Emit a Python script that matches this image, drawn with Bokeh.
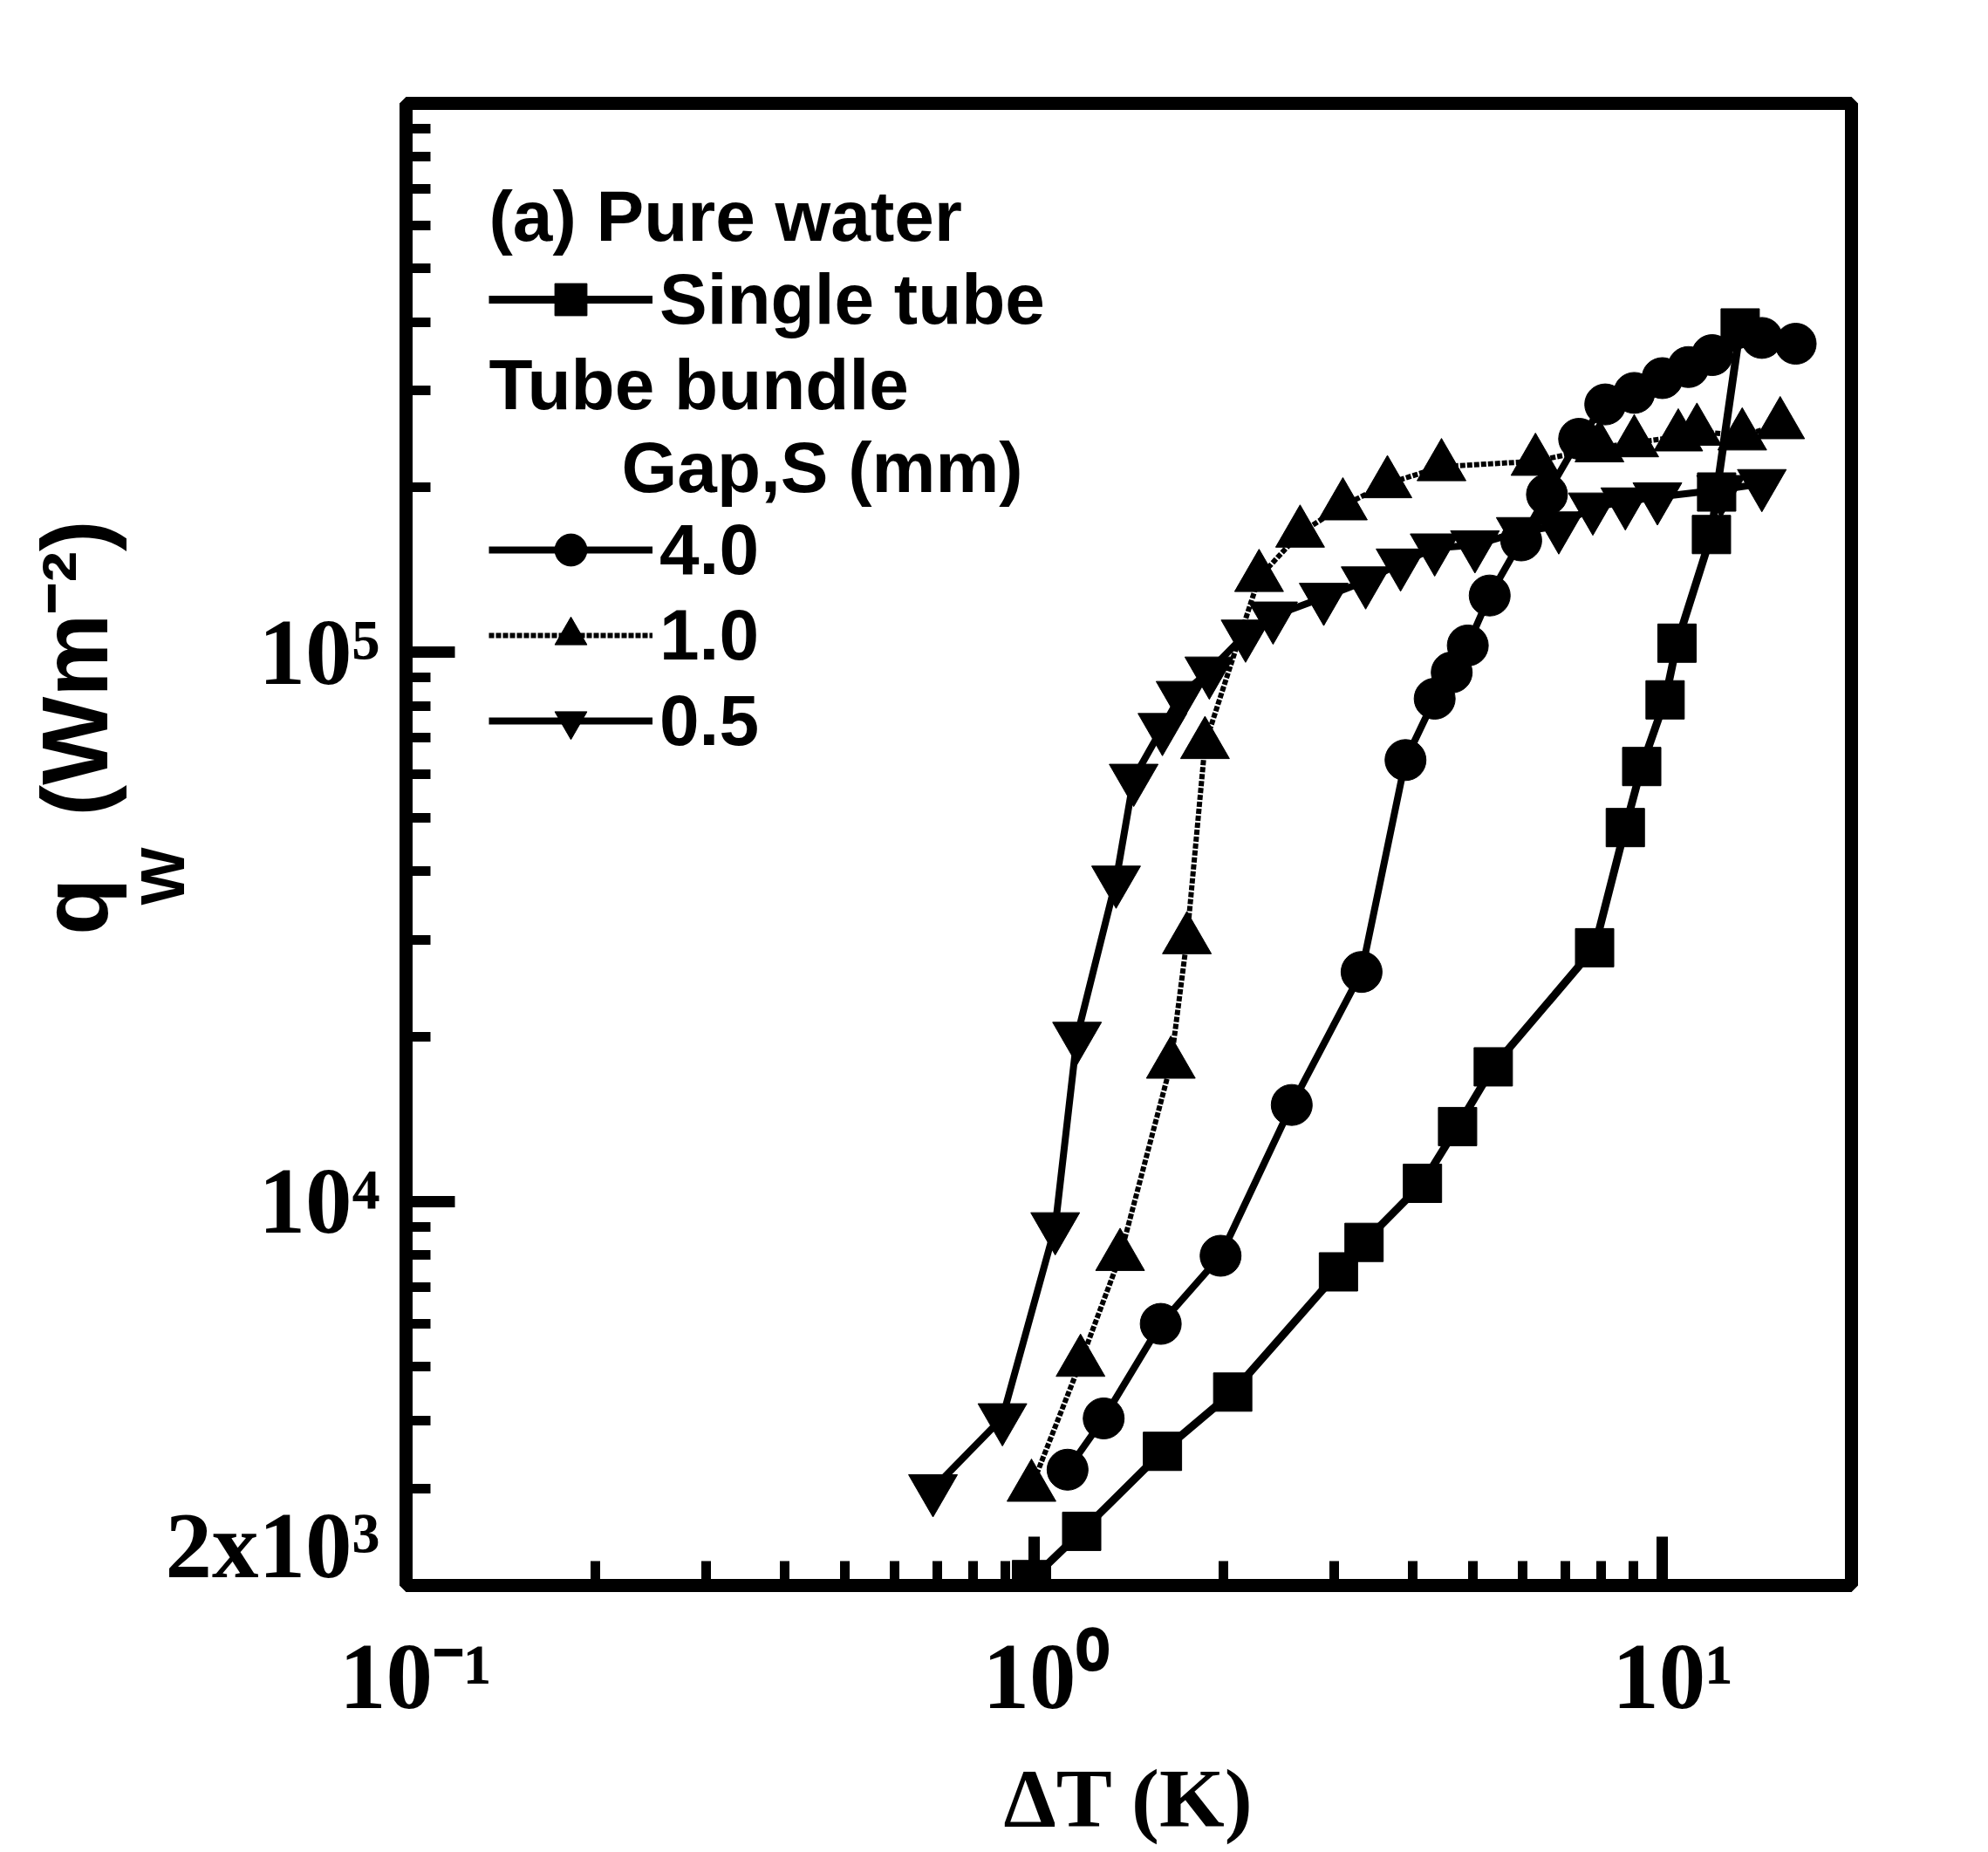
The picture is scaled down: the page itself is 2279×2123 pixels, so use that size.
import math
from bokeh.plotting import figure
from bokeh.models import Range1d, FixedTicker, Label, Legend, LegendItem, LinearAxis
from bokeh.embed import file_html
from bokeh.resources import INLINE

# ---------------- data: wall heat flux vs wall superheat, pure water ----------------
single_dt = [0.99, 1.19, 1.60, 2.07, 3.05, 3.35, 4.15, 4.72, 5.38, 7.80, 8.73, 9.27,
             10.1, 10.55, 11.97, 12.2, 13.3]
single_q = [2050, 2510, 3510, 4500, 7450, 8430, 10800, 13700, 17600, 29000, 48000, 62000,
            82000, 104000, 164000, 196000, 390000]

gap40_dt = [1.13, 1.29, 1.59, 1.98, 2.57, 3.32, 3.90, 4.34, 4.62, 4.90, 5.31, 5.96, 6.55,
            7.37, 8.11, 9.02, 10.0, 11.0, 12.0, 14.4, 16.3]
gap40_q = [3250, 4030, 5990, 7970, 15000, 26200, 63700, 82400, 92000, 103000, 127000,
           160000, 194000, 245000, 283000, 297000, 316000, 331000, 348000, 374000, 365000]

gap10_dt = [0.99, 1.185, 1.37, 1.65, 1.75, 1.87, 2.28, 2.65, 3.10, 3.65, 4.45, 6.28, 7.94,
            9.02, 10.6, 11.35, 13.4, 15.4]
gap10_q = [3020, 5100, 7950, 17800, 30000, 68000, 137000, 165000, 185000, 203000, 218000,
           223000, 236000, 241000, 247000, 253000, 248000, 260000]

gap05_dt = [0.69, 0.89, 1.08, 1.17, 1.35, 1.44, 1.60, 1.71, 1.90, 2.17, 2.40, 2.89, 3.37,
            3.83, 4.34, 5.03, 5.95, 6.84, 7.75, 8.73, 9.82, 12.4, 14.4]
gap05_q = [3000, 4040, 9000, 20000, 38500, 59000, 73000, 83500, 92500, 108000, 116500,
           126000, 135000, 145500, 155000, 157000, 166000, 170000, 184000, 188000, 192000,
           198000, 203000]

# ---------------- axes ----------------
x_major = [0.1, 1, 10]
x_minor = [0.2, 0.3, 0.4, 0.5, 0.6, 0.7, 0.8, 0.9, 2, 3, 4, 5, 6, 7, 8, 9]
y_major = [1e4, 1e5, 1e6]
y_minor = [3e3, 4e3, 5e3, 6e3, 7e3, 8e3, 9e3,
           2e4, 3e4, 4e4, 5e4, 6e4, 7e4, 8e4, 9e4,
           2e5, 3e5, 4e5, 5e5, 6e5, 7e5, 8e5, 9e5]

x_label_vals = [0.1, 1, 10, 20]
x_label_text = ["10\u207b\u00b9", "10\u2070", "10\u00b9", "2x10\u00b9"]
y_label_vals = [2000, 1e4, 1e5, 1e6]
y_label_text = ["2x10\u00b3", "10\u2074", "10\u2075", "10\u2076"]

x_title = "\u0394T (K)"
# rotated y title; the gap after "q" leaves room for the subscript
y_title = "\u2003\u2003\u2002q\u2002\u2006(Wm\u207b\u00b2)"
y_title_sub = "W"

series_names = ["Single tube", "4.0", "1.0", "0.5"]
header_lines = ["(a) Pure water", "Tube bundle", "Gap,S (mm)"]

# ---------------- figure ----------------
W, H = 2279, 2123
FL, FR, FT, FB = 465, 2122, 118, 1817

p = figure(width=W, height=H, x_axis_type="log", y_axis_type="log",
           x_range=Range1d(0.1, 20), y_range=Range1d(2000, 1e6),
           output_backend="svg", toolbar_location=None,
           min_border_left=FL, min_border_right=W - FR,
           min_border_top=FT, min_border_bottom=H - FB)
p.grid.visible = False
p.background_fill_color = "white"
p.border_fill_color = "white"
p.outline_line_color = "black"
p.outline_line_width = 15


def at_x(px):
    lo, hi = math.log10(p.x_range.start), math.log10(p.x_range.end)
    return 10 ** (lo + (px - FL) / (FR - FL) * (hi - lo))


def at_y(py):
    lo, hi = math.log10(p.y_range.start), math.log10(p.y_range.end)
    return 10 ** (lo + (FB - py) / (FB - FT) * (hi - lo))


def px_x(v):
    lo, hi = math.log10(p.x_range.start), math.log10(p.x_range.end)
    return FL + (math.log10(v) - lo) / (hi - lo) * (FR - FL)


def px_y(v):
    lo, hi = math.log10(p.y_range.start), math.log10(p.y_range.end)
    return FB - (math.log10(v) - lo) / (hi - lo) * (FB - FT)


# tick marks (inward) on the frame's bottom and left edges; their labels come from
# the label-only axes below
p.xaxis.ticker = FixedTicker(ticks=x_major, minor_ticks=x_minor)
p.yaxis.ticker = FixedTicker(ticks=y_major, minor_ticks=y_minor)
for ax in (p.xaxis[0], p.yaxis[0]):
    ax.axis_line_width = 15
    ax.axis_line_color = "black"
    ax.major_tick_in = 56
    ax.major_tick_out = 0
    ax.minor_tick_in = 28
    ax.minor_tick_out = 0
    ax.major_tick_line_width = 13
    ax.minor_tick_line_width = 11
    ax.major_tick_line_color = "black"
    ax.minor_tick_line_color = "black"
    ax.major_label_text_font_size = "0px"
    ax.major_label_text_color = None

TICK_FONT = "Liberation Sans Narrow"


def text_axis(ticks, texts, size, font):
    ax = LinearAxis(ticker=FixedTicker(ticks=ticks, minor_ticks=[]),
                    major_label_overrides={k: t for k, t in zip(ticks, texts)})
    ax.axis_line_color = None
    ax.major_tick_line_color = None
    ax.minor_tick_line_color = None
    ax.major_tick_in = 0
    ax.major_tick_out = 0
    ax.minor_tick_in = 0
    ax.minor_tick_out = 0
    ax.major_label_text_font = font
    ax.major_label_text_font_style = "bold"
    ax.major_label_text_font_size = size
    ax.major_label_text_color = "black"
    ax.axis_label_text_font_style = "bold"
    ax.axis_label_text_color = "black"
    return ax


# tick labels, nudged to sit like the printed labels
x_shift = [11, 13, 12, 31]
x_pos = [at_x(px_x(v) + s) for v, s in zip(x_label_vals, x_shift)]
x_lab = text_axis(x_pos, x_label_text, "107px", TICK_FONT)
x_lab.major_label_standoff = 45
x_lab.axis_label = x_title
x_lab.axis_label_text_font = TICK_FONT
x_lab.axis_label_text_font_size = "96px"
x_lab.axis_label_standoff = 24

y_shift = [-46, 0, 0, -3]
y_pos = [at_y(px_y(v) + s) for v, s in zip(y_label_vals, y_shift)]
y_lab = text_axis(y_pos, y_label_text, "107px", TICK_FONT)
y_lab.major_label_standoff = 30

# outer left axis: subscript of the y title as its label, the title as axis label
sub_pos = [at_y(971)]
y_ttl = text_axis(sub_pos, [y_title_sub], "70px", "Liberation Sans")
y_ttl.major_label_orientation = math.pi / 2
y_ttl.major_label_standoff = 0
y_ttl.axis_label = y_title
y_ttl.axis_label_text_font = "Liberation Sans"
y_ttl.axis_label_text_font_size = "107px"
y_ttl.axis_label_standoff = -40

p.add_layout(x_lab, "below")
p.add_layout(y_lab, "left")
p.add_layout(y_ttl, "left")

# ---------------- series ----------------
r1l = p.line(single_dt, single_q, line_width=9, color="black")
r1m = p.scatter(single_dt, single_q, marker="square", size=44, color="black")
r2l = p.line(gap40_dt, gap40_q, line_width=8, color="black")
r2m = p.scatter(gap40_dt, gap40_q, marker="circle", size=47, color="black")
r3l = p.line(gap10_dt, gap10_q, line_width=6, color="black", line_dash="6 2")
r3m = p.scatter(gap10_dt, gap10_q, marker="triangle", size=56, color="black")
r4l = p.line(gap05_dt, gap05_q, line_width=8, color="black")
r4m = p.scatter(gap05_dt, gap05_q, marker="inverted_triangle", size=56, color="black")

LEG_FONT = "Liberation Sans"
LEG_SIZE = "82px"


def make_legend(items, location):
    return Legend(items=items, location=location, orientation="vertical",
                  border_line_color=None, background_fill_alpha=0, padding=0, margin=0,
                  spacing=4, glyph_width=188, glyph_height=92, label_height=92,
                  label_standoff=8, label_text_font=LEG_FONT, label_text_font_style="bold",
                  label_text_font_size=LEG_SIZE, label_text_color="black")


leg_single = make_legend([LegendItem(label=series_names[0], renderers=[r1l, r1m])],
                         (560 - FL, FB - 390))
leg_bundle = make_legend([LegendItem(label=series_names[1], renderers=[r2l, r2m]),
                          LegendItem(label=series_names[2], renderers=[r3l, r3m]),
                          LegendItem(label=series_names[3], renderers=[r4l, r4m])],
                         (560 - FL, FB - 873))
p.add_layout(leg_single)
p.add_layout(leg_bundle)

for text, (hx, hy) in zip(header_lines, [(560, 247), (560, 440), (712, 535)]):
    p.add_layout(Label(x=at_x(hx), y=at_y(hy), text=text, text_font=LEG_FONT,
                       text_font_style="bold", text_font_size=LEG_SIZE,
                       text_align="left", text_baseline="middle", text_color="black"))

open("out.html", "w").write(file_html(p, INLINE))
